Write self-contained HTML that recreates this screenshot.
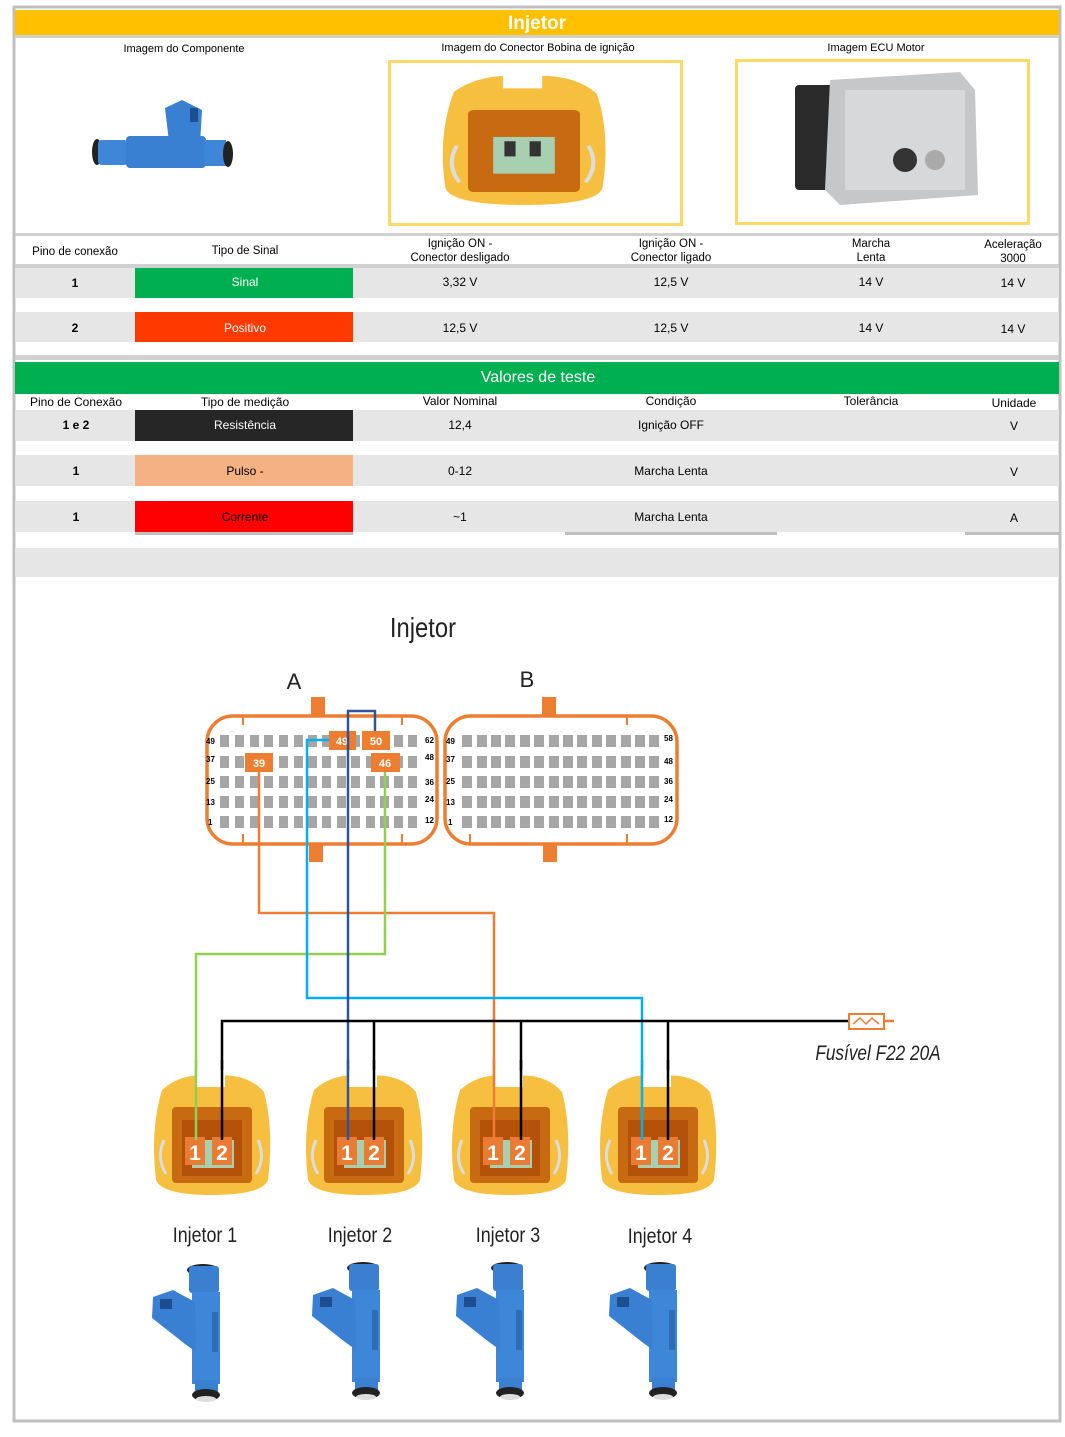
<!DOCTYPE html>
<html><head><meta charset="utf-8"><style>
html,body{margin:0;padding:0;background:#fff;}
svg{display:block;font-family:"Liberation Sans",sans-serif;}
</style></head><body>
<svg width="1065" height="1437" viewBox="0 0 1065 1437" xmlns="http://www.w3.org/2000/svg">
<defs>
<g id="inj">
 <ellipse cx="63" cy="18" rx="16" ry="6" fill="#222"/>
 <rect x="49" y="14" width="30" height="27" rx="3" fill="#3a7fd0"/>
 <rect x="52" y="40" width="28" height="92" fill="#3e86d8"/>
 <rect x="72" y="60" width="6" height="40" fill="#2f6cb8"/>
 <polygon points="13,45 33,38 55,50 56,100 45,92 12,66" fill="#3a80d2"/>
 <rect x="20" y="47" width="12" height="10" fill="#1d4f90"/>
 <rect x="55" y="128" width="23" height="12" fill="#3a80d2"/>
 <ellipse cx="66" cy="143" rx="14" ry="6" fill="#222"/>
 <ellipse cx="66" cy="147" rx="10" ry="3" fill="#ddd"/>
</g>
<g id="con">
 <path d="M10,20 Q30,2 60,6 Q95,2 112,22 Q122,60 116,110 Q110,125 60,125 Q10,125 4,110 Q-2,60 10,20Z" fill="#f6bf3f"/>
 <rect x="45" y="0" width="28" height="17" fill="#fff"/>
 <rect x="20" y="37" width="80" height="76" rx="4" fill="#c86a12"/>
 <rect x="30" y="50" width="60" height="56" fill="#b4520a"/>
 <path d="M12,70 Q4,88 14,104" stroke="#ddd" stroke-width="3" fill="none"/>
 <path d="M106,70 Q114,88 104,104" stroke="#ddd" stroke-width="3" fill="none"/>
 <rect x="40" y="70" width="42" height="28" fill="#a8d0b0"/>
 <rect x="33" y="67" width="20" height="28" fill="#ea7b33"/>
 <rect x="60" y="67" width="20" height="28" fill="#ea7b33"/>
 <text x="43" y="90" font-size="21" font-weight="bold" fill="#fff" text-anchor="middle">1</text>
 <text x="70" y="90" font-size="21" font-weight="bold" fill="#fff" text-anchor="middle">2</text>
</g>
<g id="rowA">
<rect x="220" y="0" width="9" height="12"/><rect x="235" y="0" width="9" height="12"/><rect x="250" y="0" width="9" height="12"/><rect x="264" y="0" width="9" height="12"/><rect x="279" y="0" width="9" height="12"/><rect x="294" y="0" width="9" height="12"/><rect x="308" y="0" width="9" height="12"/><rect x="322" y="0" width="9" height="12"/><rect x="337" y="0" width="9" height="12"/><rect x="351" y="0" width="9" height="12"/><rect x="366" y="0" width="9" height="12"/><rect x="380" y="0" width="9" height="12"/><rect x="394" y="0" width="9" height="12"/><rect x="408" y="0" width="9" height="12"/>
</g>
<g id="rowB">
<rect x="462" y="0" width="10" height="12"/><rect x="477" y="0" width="10" height="12"/><rect x="491" y="0" width="10" height="12"/><rect x="505" y="0" width="10" height="12"/><rect x="520" y="0" width="10" height="12"/><rect x="534" y="0" width="10" height="12"/><rect x="549" y="0" width="10" height="12"/><rect x="563" y="0" width="10" height="12"/><rect x="577" y="0" width="10" height="12"/><rect x="592" y="0" width="10" height="12"/><rect x="606" y="0" width="10" height="12"/><rect x="621" y="0" width="10" height="12"/><rect x="635" y="0" width="10" height="12"/><rect x="649" y="0" width="10" height="12"/>
</g>
</defs>
<rect x="14" y="7" width="1046" height="1414" fill="none" stroke="#c0c0c0" stroke-width="3"/>
<rect x="15" y="10" width="1044" height="25" fill="#ffc000"/>
<text x="537" y="29" font-size="19" font-weight="bold" fill="#fff" text-anchor="middle">Injetor</text>
<rect x="15" y="35" width="1044" height="3" fill="#d0d0d0"/>
<g font-size="11" fill="#000" text-anchor="middle">
<text x="184" y="52">Imagem do Componente</text>
<text x="538" y="51">Imagem do Conector Bobina de ignição</text>
<text x="876" y="51">Imagem ECU Motor</text>
</g>
<g>
 <ellipse cx="97" cy="152" rx="5" ry="13" fill="#222"/>
 <rect x="98" y="140" width="30" height="25" rx="4" fill="#3e86d8"/>
 <rect x="126" y="136" width="80" height="32" rx="4" fill="#3a80d2"/>
 <polygon points="165,108 182,100 202,110 200,145 170,150" fill="#3a80d2"/>
 <rect x="190" y="108" width="8" height="14" fill="#1d4f90"/>
 <rect x="204" y="140" width="22" height="26" fill="#3e86d8"/>
 <ellipse cx="228" cy="154" rx="5" ry="13" fill="#222"/>
</g>
<rect x="389.5" y="61.5" width="292" height="163" fill="none" stroke="#ffd966" stroke-width="3"/>
<g transform="translate(440,70) scale(1.4,1.08)">
 <path d="M10,20 Q30,2 60,6 Q95,2 112,22 Q122,60 116,110 Q110,125 60,125 Q10,125 4,110 Q-2,60 10,20Z" fill="#f6bf3f"/>
 <rect x="45" y="0" width="28" height="17" fill="#fff"/>
 <rect x="20" y="37" width="80" height="76" rx="4" fill="#c86a12"/>
 <path d="M12,70 Q4,88 14,104" stroke="#ddd" stroke-width="3" fill="none"/>
 <path d="M106,70 Q114,88 104,104" stroke="#ddd" stroke-width="3" fill="none"/>
 <rect x="38" y="62" width="44" height="34" fill="#a8d0b0"/>
 <rect x="46" y="66" width="8" height="14" fill="#333"/><rect x="64" y="66" width="8" height="14" fill="#333"/>
</g>
<rect x="736.5" y="60.5" width="292" height="163" fill="none" stroke="#ffd966" stroke-width="3"/>
<rect x="795" y="85" width="40" height="105" rx="4" fill="#2a2a2a"/>
<path d="M830,80 L960,72 L975,90 L978,195 L840,205 L825,190Z" fill="#c5c7c9"/>
<rect x="845" y="90" width="120" height="100" fill="#d6d8da"/>
<circle cx="905" cy="160" r="12" fill="#333"/>
<circle cx="935" cy="160" r="10" fill="#aaa"/>
<rect x="15" y="233" width="1044" height="3" fill="#d0d0d0"/>
<g font-size="11.5" fill="#000" text-anchor="middle">
<text x="75" y="255">Pino de conexão</text>
<text x="245" y="254">Tipo de Sinal</text>
<text x="460" y="247">Ignição ON -</text><text x="460" y="261">Conector desligado</text>
<text x="671" y="247">Ignição ON -</text><text x="671" y="261">Conector ligado</text>
<text x="871" y="247">Marcha</text><text x="871" y="261">Lenta</text>
<text x="1013" y="248">Aceleração</text><text x="1013" y="262">3000</text>
</g>
<rect x="15" y="264" width="1044" height="4" fill="#d0d0d0"/>
<rect x="15" y="268" width="1044" height="30" fill="#e6e6e6"/>
<rect x="15" y="312" width="1044" height="30" fill="#e6e6e6"/>
<rect x="135" y="268" width="218" height="30" fill="#00b050"/>
<rect x="135" y="312" width="218" height="30" fill="#ff3a00"/>
<g font-size="12" fill="#000" text-anchor="middle">
<text x="75" y="287" font-weight="bold">1</text>
<text x="245" y="286" fill="#fff">Sinal</text>
<text x="460" y="286">3,32 V</text><text x="671" y="286">12,5 V</text><text x="871" y="286">14 V</text><text x="1013" y="287">14 V</text>
<text x="75" y="332" font-weight="bold">2</text>
<text x="245" y="332" fill="#fff">Positivo</text>
<text x="460" y="332">12,5 V</text><text x="671" y="332">12,5 V</text><text x="871" y="332">14 V</text><text x="1013" y="333">14 V</text>
</g>
<rect x="15" y="355" width="1044" height="5" fill="#d0d0d0"/>
<rect x="15" y="362" width="1044" height="32" fill="#00b050"/>
<text x="538" y="382" font-size="16" fill="#fff" text-anchor="middle">Valores de teste</text>
<g font-size="12" fill="#000" text-anchor="middle">
<text x="76" y="406">Pino de Conexão</text>
<text x="245" y="406">Tipo de medição</text>
<text x="460" y="405">Valor Nominal</text>
<text x="671" y="405">Condição</text>
<text x="871" y="405">Tolerância</text>
<text x="1014" y="407">Unidade</text>
</g>
<rect x="15" y="410" width="1044" height="31" fill="#e6e6e6"/>
<rect x="15" y="455" width="1044" height="31" fill="#e6e6e6"/>
<rect x="15" y="501" width="1044" height="31" fill="#e6e6e6"/>
<rect x="135" y="410" width="218" height="31" fill="#262626"/>
<rect x="135" y="455" width="218" height="31" fill="#f4b183"/>
<rect x="135" y="501" width="218" height="31" fill="#ff0000"/>
<rect x="135" y="532" width="218" height="3" fill="#bfbfbf"/>
<rect x="565" y="532" width="212" height="3" fill="#bfbfbf"/>
<rect x="965" y="532" width="94" height="3" fill="#bfbfbf"/>
<g font-size="12" fill="#000" text-anchor="middle">
<text x="76" y="429" font-weight="bold">1 e 2</text>
<text x="245" y="429" fill="#fff">Resistência</text>
<text x="460" y="429">12,4</text><text x="671" y="429">Ignição OFF</text><text x="1014" y="430">V</text>
<text x="76" y="475" font-weight="bold">1</text>
<text x="245" y="475">Pulso -</text>
<text x="460" y="475">0-12</text><text x="671" y="475">Marcha Lenta</text><text x="1014" y="476">V</text>
<text x="76" y="521" font-weight="bold">1</text>
<text x="245" y="521">Corrente</text>
<text x="460" y="521">~1</text><text x="671" y="521">Marcha Lenta</text><text x="1014" y="522">A</text>
</g>
<rect x="15" y="548" width="1044" height="29" fill="#e6e6e6"/>
<text x="423" y="637" font-size="28" fill="#222" text-anchor="middle" transform="translate(423 0) scale(0.85 1) translate(-423 0)">Injetor</text>
<text x="294" y="689" font-size="22" fill="#222" text-anchor="middle">A</text>
<text x="527" y="687" font-size="22" fill="#222" text-anchor="middle">B</text>
<rect x="311" y="697" width="14" height="20" fill="#ed7d31"/>
<rect x="309" y="843" width="14" height="19" fill="#ed7d31"/>
<rect x="207" y="716" width="230" height="128" rx="26" fill="#fff" stroke="#ed7d31" stroke-width="3.5"/>
<rect x="242" y="716" width="2" height="9" fill="#ed7d31"/><rect x="242" y="834" width="2" height="9" fill="#ed7d31"/>
<rect x="401" y="716" width="2" height="9" fill="#ed7d31"/><rect x="401" y="834" width="2" height="9" fill="#ed7d31"/>
<rect x="542" y="697" width="14" height="20" fill="#ed7d31"/>
<rect x="543" y="843" width="14" height="19" fill="#ed7d31"/>
<rect x="445" y="716" width="232" height="128" rx="26" fill="#fff" stroke="#ed7d31" stroke-width="3.5"/>
<rect x="626" y="716" width="2" height="9" fill="#ed7d31"/><rect x="626" y="834" width="2" height="9" fill="#ed7d31"/>
<rect x="469" y="834" width="2" height="9" fill="#ed7d31"/>
<g fill="#a6a6a6">
<use href="#rowA" y="735"/><use href="#rowA" y="756"/><use href="#rowA" y="776"/><use href="#rowA" y="796"/><use href="#rowA" y="816"/>
<use href="#rowB" y="735"/><use href="#rowB" y="756"/><use href="#rowB" y="776"/><use href="#rowB" y="796"/><use href="#rowB" y="816"/>
</g>
<g font-size="8" font-weight="bold" fill="#000">
<text x="206" y="744">49</text><text x="206" y="762">37</text><text x="206" y="784">25</text><text x="206" y="805">13</text><text x="208" y="825">1</text>
<text x="425" y="743">62</text><text x="425" y="760">48</text><text x="425" y="785">36</text><text x="425" y="802">24</text><text x="425" y="823">12</text>
<text x="446" y="744">49</text><text x="446" y="762">37</text><text x="446" y="784">25</text><text x="446" y="805">13</text><text x="448" y="825">1</text>
<text x="664" y="741">58</text><text x="664" y="764">48</text><text x="664" y="784">36</text><text x="664" y="802">24</text><text x="664" y="822">12</text>
</g>
<g fill="none" stroke-width="2.5">
<polyline points="259,770 259,913 494,913 494,1150" stroke="#ed7d31"/>
<polyline points="385,770 385,954 196,954 196,1150" stroke="#92d050"/>
<polyline points="330,740 307,740 307,998 642,998 642,1150" stroke="#00b0f0"/>
<polyline points="375,735 375,711 348,711 348,1150" stroke="#2f5597"/>
<polyline points="222,1150 222,1021 848,1021" stroke="#000"/>
<polyline points="374,1021 374,1150" stroke="#000"/>
<polyline points="521,1021 521,1150" stroke="#000"/>
<polyline points="668,1021 668,1150" stroke="#000"/>
<line x1="884" y1="1021" x2="894" y2="1021" stroke="#ed7d31"/>
</g>
<rect x="329" y="731" width="27" height="19" fill="#ed7d31"/>
<rect x="362" y="731" width="28" height="19" fill="#ed7d31"/>
<rect x="245" y="753" width="28" height="19" fill="#ed7d31"/>
<rect x="371" y="753" width="29" height="19" fill="#ed7d31"/>
<g font-size="11" font-weight="bold" fill="#fff" text-anchor="middle">
<text x="342" y="745">49</text><text x="376" y="745">50</text><text x="259" y="767">39</text><text x="385" y="767">46</text>
</g>
<line x1="348" y1="731" x2="348" y2="750" stroke="#2f5597" stroke-width="2.5"/>
<rect x="849" y="1014" width="35" height="15" fill="#fff" stroke="#ed7d31" stroke-width="2"/>
<path d="M853,1024 L860,1018 L866,1024 L872,1018 L879,1024" stroke="#ed7d31" stroke-width="1.5" fill="none"/>
<text x="878" y="1060" font-size="21" font-style="italic" fill="#222" text-anchor="middle" transform="translate(878 0) scale(0.82 1) translate(-878 0)">Fusível F22 20A</text>
<g transform="translate(152,1070)"><use href="#con"/></g>
<g transform="translate(304,1070)"><use href="#con"/></g>
<g transform="translate(450,1070)"><use href="#con"/></g>
<g transform="translate(598,1070)"><use href="#con"/></g>
<g fill="none" stroke-width="2.5">
<line x1="196" y1="1060" x2="196" y2="1140" stroke="#92d050"/>
<line x1="222" y1="1060" x2="222" y2="1140" stroke="#000"/>
<line x1="348" y1="1060" x2="348" y2="1140" stroke="#2f5597"/>
<line x1="374" y1="1060" x2="374" y2="1140" stroke="#000"/>
<line x1="494" y1="1060" x2="494" y2="1140" stroke="#ed7d31"/>
<line x1="521" y1="1060" x2="521" y2="1140" stroke="#000"/>
<line x1="642" y1="1060" x2="642" y2="1140" stroke="#00b0f0"/>
<line x1="668" y1="1060" x2="668" y2="1140" stroke="#000"/>
</g>
<g font-size="21" fill="#222" text-anchor="middle">
<text x="205" y="1242" transform="translate(205 0) scale(0.85 1) translate(-205 0)">Injetor 1</text>
<text x="360" y="1242" transform="translate(360 0) scale(0.85 1) translate(-360 0)">Injetor 2</text>
<text x="508" y="1242" transform="translate(508 0) scale(0.85 1) translate(-508 0)">Injetor 3</text>
<text x="660" y="1243" transform="translate(660 0) scale(0.85 1) translate(-660 0)">Injetor 4</text>
</g>
<g transform="translate(140,1252)"><use href="#inj"/></g>
<g transform="translate(300,1250)"><use href="#inj"/></g>
<g transform="translate(444,1250)"><use href="#inj"/></g>
<g transform="translate(597,1250)"><use href="#inj"/></g>
</svg>
</body></html>
